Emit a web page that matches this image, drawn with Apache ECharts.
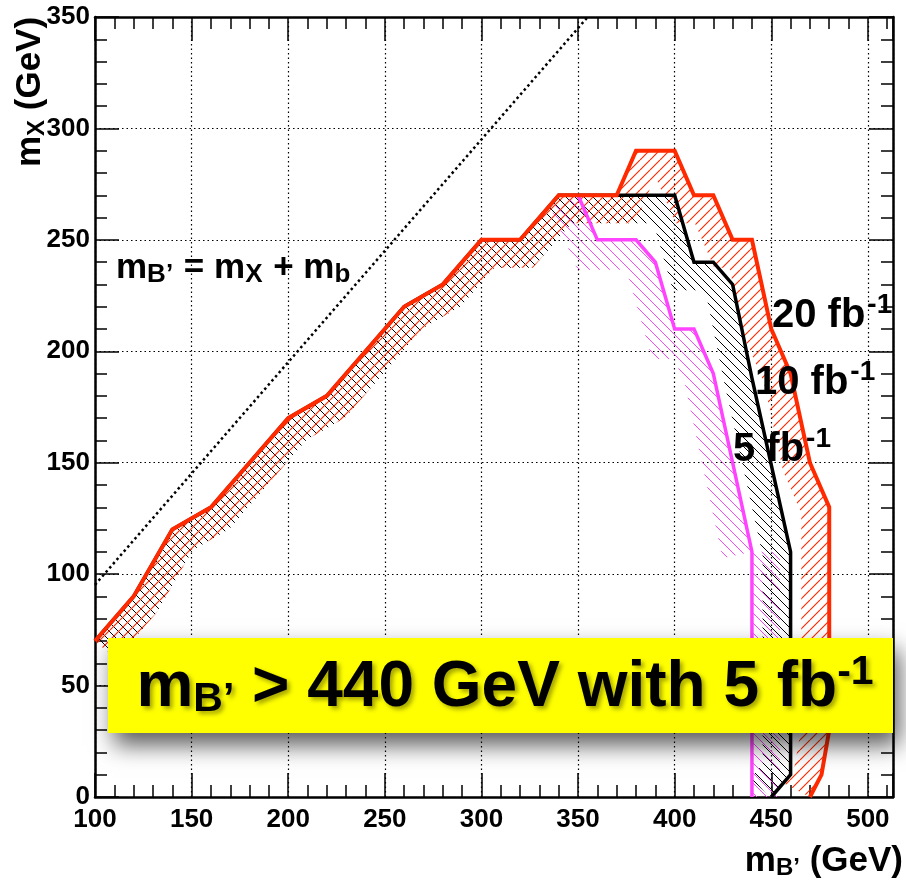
<!DOCTYPE html>
<html><head><meta charset="utf-8">
<script src="https://cdn.jsdelivr.net/npm/echarts@6/dist/echarts.min.js"></script>
<style>html,body{margin:0;padding:0;background:#fff}#c{width:906px;height:882px}</style>
</head><body><div id="c"></div>
<script>
// ---- data ----
const xMin = 100, xMax = 513, yMin = 0, yMax = 350;
const majorStep = 50, minorStep = 10;

const red20X = [100,120,140,160,180,200,220,240,260,280,300,320,340,370,380,400,410,420,430,440,450,460,470,480,480,476,470];
const red20Y = [70, 90, 120,130,150,170,180,200,220,230,250,250,270,270,290,290,270,270,250,250,210,190,150,130,30, 10, 0];

const black10X = [100,120,140,160,180,200,220,240,260,280,300,320,340,400,410,420,430,440,450,460,460,450];
const black10Y = [70, 90, 120,130,150,170,180,200,220,230,250,250,270,270,240,240,230,188,149,110,10, 0];

const mag5X = [350,360,380,390,400,410,420,430,440,440];
const mag5Y = [270,250,250,240,210,210,190,150,110,0];

const diagX = [100, 355];
const diagY = [95.2, 350];

// ---- helpers ----
const FONT = 'Liberation Sans, Arial, Helvetica, sans-serif';
const RED = '#ff2a00', MAG = '#ff44ff', BLK = '#000000';

function pairs(xs, ys) { return xs.map((x, i) => [x, ys[i]]); }

function makePattern(color, dir, s, lw) {
  const c = document.createElement('canvas');
  c.width = s; c.height = s;
  const g = c.getContext('2d');
  g.strokeStyle = color; g.lineWidth = lw;
  g.beginPath();
  for (const o of [-s, 0, s]) {
    if (dir === '/') { g.moveTo(o, s); g.lineTo(o + s, 0); }
    else { g.moveTo(o, 0); g.lineTo(o + s, s); }
  }
  g.stroke();
  return c;
}

function offsetBand(pts, w) {
  const n = pts.length, segN = [], off = [];
  for (let i = 0; i < n - 1; i++) {
    const dx = pts[i + 1][0] - pts[i][0], dy = pts[i + 1][1] - pts[i][1];
    const L = Math.hypot(dx, dy) || 1;
    segN.push([-dy / L, dx / L]);
  }
  for (let i = 0; i < n; i++) {
    let nx, ny;
    if (i === 0) { nx = segN[0][0]; ny = segN[0][1]; }
    else if (i === n - 1) { nx = segN[n - 2][0]; ny = segN[n - 2][1]; }
    else {
      const a = segN[i - 1], b = segN[i];
      let mx = a[0] + b[0], my = a[1] + b[1];
      const ml = Math.hypot(mx, my);
      if (ml < 1e-6) { nx = a[0]; ny = a[1]; }
      else {
        mx /= ml; my /= ml;
        const cos = mx * a[0] + my * a[1];
        const k = Math.min(1 / Math.max(cos, 0.2), 2.5);
        nx = mx * k; ny = my * k;
      }
    }
    off.push([pts[i][0] + nx * w, pts[i][1] + ny * w]);
  }
  return pts.concat(off.reverse());
}

function bandSeries(xs, ys, color, dir, spacing, width, z, lw) {
  const data = pairs(xs, ys);
  const pat = makePattern(color, dir, spacing, lw || 1);
  return {
    type: 'custom', xAxisIndex: 0, yAxisIndex: 0, z: z, clip: true, silent: true,
    data: data, encode: { x: 0, y: 1 },
    renderItem: function (params, api) {
      if (params.dataIndex !== 0) return null;
      const pts = data.map(d => api.coord(d));
      return {
        type: 'polygon', silent: true,
        shape: { points: offsetBand(pts, width) },
        style: { fill: { image: pat, repeat: 'repeat' }, stroke: null }
      };
    }
  };
}

function lineSeries(xs, ys, color, w, z, type) {
  return {
    type: 'line', xAxisIndex: 0, yAxisIndex: 0, z: z, clip: true, silent: true,
    symbol: 'none', data: pairs(xs, ys), animation: false,
    lineStyle: { color: color, width: w, type: type || 'solid', join: 'miter', cap: 'butt' }
  };
}

function xAx(pos, step, tickLen, showLabel, showLine, showSplit) {
  return {
    type: 'value', position: pos, min: xMin, max: xMax, interval: step,
    axisLine: { show: showLine, lineStyle: { color: '#000', width: 2.5 } },
    axisTick: { show: true, inside: true, length: tickLen, lineStyle: { color: '#000', width: 1.5 } },
    axisLabel: {
      show: showLabel, margin: 10, color: '#000', fontFamily: FONT, fontWeight: 'bold', fontSize: 26,
      formatter: v => (v % majorStep === 0 ? String(v) : '')
    },
    splitLine: { show: showSplit, lineStyle: { color: '#000', width: 1.2, type: [1.5, 3] } }
  };
}
function yAx(pos, showLabel, showSplit) {
  return {
    type: 'value', position: pos, min: yMin, max: yMax, interval: majorStep,
    axisLine: { show: true, lineStyle: { color: '#000', width: 2.5 } },
    axisTick: { show: true, inside: true, length: 24, lineStyle: { color: '#000', width: 1.5 } },
    minorTick: { show: true, splitNumber: majorStep / minorStep, length: 12, lineStyle: { color: '#000', width: 1.5 } },
    axisLabel: { show: showLabel, margin: 5, color: '#000', fontFamily: FONT, fontWeight: 'bold', fontSize: 26 },
    splitLine: { show: showSplit, lineStyle: { color: '#000', width: 1.2, type: [1.5, 3] } }
  };
}

const chart = echarts.init(document.getElementById('c'), null, { renderer: 'canvas' });

const sub = (size, pad) => ({ fontSize: size, fontWeight: 'bold', fontFamily: FONT, padding: pad });

chart.setOption({
  animation: false,
  backgroundColor: '#fff',
  grid: { left: 95, right: 13, top: 17, bottom: 85, containLabel: false },
  xAxis: [
    xAx('bottom', majorStep, 24, true, true, true),
    xAx('bottom', minorStep, 12, false, false, false),
    xAx('top', majorStep, 24, false, true, false),
    xAx('top', minorStep, 12, false, false, false)
  ],
  yAxis: [yAx('left', true, true), yAx('right', false, false)],
  series: [
    bandSeries(mag5X.slice(0, -1), mag5Y.slice(0, -1), MAG, '\\', 10, 30, 2),
    bandSeries(mag5X.slice(-2).reverse(), mag5Y.slice(-2).reverse(), MAG, '\\', 10, 28, 2),
    bandSeries(black10X, black10Y, BLK, '\\', 9, 28, 3),
    bandSeries(red20X, red20Y, RED, '/', 10, 28, 4, 1.15),
    lineSeries(diagX, diagY, '#000', 2.5, 5, [2.5, 3]),
    lineSeries(mag5X, mag5Y, MAG, 3.5, 6),
    lineSeries(black10X, black10Y, BLK, 3.5, 7),
    lineSeries(red20X, red20Y, RED, 4, 8)
  ],
  graphic: [
    { type: 'text', x: 903, y: 861, z: 100,
      style: { text: '{a|m}{s|B’}{a| (GeV)}', align: 'right', verticalAlign: 'middle',
        rich: { a: sub(35, 0), s: sub(24, [14, 0, 0, 0]) }, fill: '#000' } },
    { type: 'text', x: 30, y: 92, rotation: Math.PI / 2, z: 100,
      style: { text: '{a|m}{s|X}{a| (GeV)}', align: 'center', verticalAlign: 'middle',
        rich: { a: sub(35, 0), s: sub(24, [14, 0, 0, 0]) }, fill: '#000' } },
    { type: 'text', x: 116, y: 268, z: 100,
      style: { text: '{a|m}{s|B’}{a| = m}{s|X}{a| + m}{s|b}', align: 'left', verticalAlign: 'middle',
        rich: { a: sub(35, 0), s: sub(26, [14, 1, 0, 0]) }, fill: '#000' } },
    { type: 'text', x: 772, y: 316, z: 100,
      style: { text: '{a|20 fb}{p|-1}', align: 'left', verticalAlign: 'middle',
        rich: { a: Object.assign(sub(40, 0), { color: RED }), p: Object.assign(sub(28, [0, 0, 22, 2]), { color: RED }) } } },
    { type: 'text', x: 755, y: 383, z: 100,
      style: { text: '{a|10 fb}{p|-1}', align: 'left', verticalAlign: 'middle',
        rich: { a: Object.assign(sub(40, 0), { color: BLK }), p: Object.assign(sub(28, [0, 0, 22, 2]), { color: BLK }) } } },
    { type: 'text', x: 733, y: 450, z: 100,
      style: { text: '{a|5 fb}{p|-1}', align: 'left', verticalAlign: 'middle',
        rich: { a: Object.assign(sub(40, 0), { color: MAG }), p: Object.assign(sub(28, [0, 0, 22, 2]), { color: MAG }) } } },
    { type: 'rect', z: 110, shape: { x: 108, y: 638, width: 785, height: 95 },
      style: { fill: '#ffff00', shadowBlur: 22, shadowColor: 'rgba(0,0,0,0.65)', shadowOffsetX: 6, shadowOffsetY: 12 } },
    { type: 'text', x: 505, y: 688, z: 111,
      style: { text: '{a|m}{s|B’}{a| > 440 GeV with 5 fb}{p|-1}', align: 'center', verticalAlign: 'middle',
        textShadowColor: 'rgba(110,110,0,0.6)', textShadowBlur: 4, textShadowOffsetX: 3, textShadowOffsetY: 3,
        rich: { a: Object.assign(sub(64, 0), { color: '#000' }), s: Object.assign(sub(41, [24, 0, 0, 0]), { color: '#000' }),
                p: Object.assign(sub(41, [0, 0, 30, 0]), { color: '#000' }) } } }
  ]
});
</script>
</body></html>
